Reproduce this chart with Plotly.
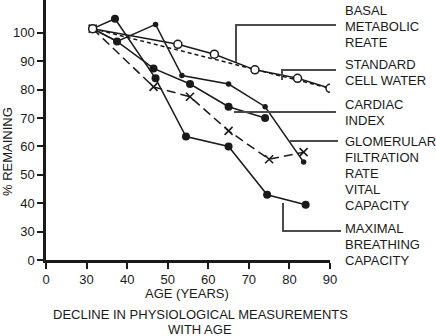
import plotly.graph_objects as go

# Percent of the age-30 value remaining, by age in years
basal_age = [31.5, 52.5, 61.5, 71.5, 82, 90]
basal_pct = [101.5, 96, 92.5, 87, 84, 80.5]

cell_water_age = [31.5, 90]
cell_water_pct = [101.5, 80.5]

cardiac_age = [31.5, 37.5, 46.5, 55.5, 65, 74]
cardiac_pct = [101.5, 97, 87.5, 82, 74, 70]

gfr_age = [31.5, 46.5, 55.5, 65, 75, 83.5]
gfr_pct = [101.5, 81, 77.5, 65.5, 55.5, 58]

vital_age = [31.5, 37.5, 47, 53.5, 65, 74, 83.5]
vital_pct = [101.5, 97, 103, 85, 82, 74, 54.5]

mbc_age = [31.5, 37, 47, 54.5, 65, 74.5, 84]
mbc_pct = [101.5, 105, 84, 63.5, 60, 43, 39.5]

# Broken axes: the first tick stands for zero
x_tickvals = [20, 30, 40, 50, 60, 70, 80, 90]
x_ticktext = ["0", "30", "40", "50", "60", "70", "80", "90"]
y_tickvals = [20, 30, 40, 50, 60, 70, 80, 90, 100]
y_ticktext = ["0", "30", "40", "50", "60", "70", "80", "90", "100"]

label_groups = [
    (["BASAL", "METABOLIC", "REATE"], 11),
    (["STANDARD", "CELL WATER"], 64),
    (["CARDIAC", "INDEX"], 104),
    (["GLOMERULAR", "FILTRATION", "RATE", "VITAL", "CAPACITY"], 141),
    (["MAXIMAL", "BREATHING", "CAPACITY"], 228),
]

W, H = 436, 336
ML, MR, MT, MB = 46, 106, 0, 76
PW, PH = W - ML - MR, H - MT - MB
FONT = "Liberation Sans, Arial, sans-serif"
INK = "#1a1a1a"


def paper(px, py):
    return (px - ML) / PW, (H - MB - py) / PH


fig = go.Figure()

fig.add_trace(go.Scatter(x=cell_water_age, y=cell_water_pct, mode="lines",
                         line=dict(color=INK, width=1.5, dash="4px,3px")))
fig.add_trace(go.Scatter(x=gfr_age, y=gfr_pct, mode="lines+markers",
                         line=dict(color=INK, width=1.5, dash="9px,5px"),
                         marker=dict(symbol="x-thin", size=8,
                                     line=dict(color=INK, width=1.6))))
fig.add_trace(go.Scatter(x=vital_age, y=vital_pct, mode="lines+markers",
                         line=dict(color=INK, width=1.5),
                         marker=dict(size=5.5, color=INK)))
fig.add_trace(go.Scatter(x=cardiac_age, y=cardiac_pct, mode="lines+markers",
                         line=dict(color=INK, width=1.5),
                         marker=dict(size=8, color=INK)))
fig.add_trace(go.Scatter(x=mbc_age, y=mbc_pct, mode="lines+markers",
                         line=dict(color=INK, width=1.5),
                         marker=dict(size=8, color=INK)))
fig.add_trace(go.Scatter(x=basal_age, y=basal_pct, mode="lines+markers",
                         line=dict(color=INK, width=1.5),
                         marker=dict(size=8, color="white",
                                     line=dict(color=INK, width=1.5))))

# Leader lines from the curves to their labels
leaders = [
    [(336, 25), (236, 25), (236, 62)],
    [(336, 70), (282, 70), (282, 80)],
    [(336, 112), (234, 112)],
    [(338, 141), (290, 141)],
    [(341, 231), (283, 231), (283, 203)],
]
for pts in leaders:
    path = ""
    for i, (px, py) in enumerate(pts):
        x, y = paper(px, py)
        path += ("M" if i == 0 else " L") + f"{x:.4f},{y:.4f}"
    fig.add_shape(type="path", path=path, xref="paper", yref="paper",
                  line=dict(color="#4a4a4a", width=2))

annotations = []
for lines, top in label_groups:
    for i, text in enumerate(lines):
        x, y = paper(343, top + 16 * i)
        annotations.append(dict(text=text, x=x, y=y, xref="paper", yref="paper",
                                xanchor="left", yanchor="middle", showarrow=False,
                                font=dict(size=13, color=INK, family=FONT)))

for text, px, py in [("AGE (YEARS)", 187, 293),
                     ("DECLINE IN PHYSIOLOGICAL MEASUREMENTS", 200, 314),
                     ("WITH AGE", 200, 329)]:
    x, y = paper(px, py)
    annotations.append(dict(text=text, x=x, y=y, xref="paper", yref="paper",
                            xanchor="center", yanchor="middle", showarrow=False,
                            borderpad=0,
                            font=dict(size=13, color=INK, family=FONT)))

x, y = paper(8, 152)
annotations.append(dict(text="% REMAINING", x=x, y=y, xref="paper", yref="paper",
                        xanchor="center", yanchor="middle", showarrow=False,
                        textangle=-90, font=dict(size=13, color=INK, family=FONT)))

fig.update_layout(
    width=W, height=H,
    margin=dict(l=ML, r=MR, t=MT, b=MB, pad=0),
    paper_bgcolor="white", plot_bgcolor="white",
    showlegend=False,
    annotations=annotations,
    font=dict(family=FONT, size=13, color=INK),
    xaxis=dict(range=[20, 90], tickvals=x_tickvals, ticktext=x_ticktext,
               showgrid=False, zeroline=False, showline=True, linecolor=INK,
               linewidth=2.5, ticks="outside", ticklen=6, tickwidth=2,
               tickcolor=INK, tickfont=dict(size=13, color=INK, family=FONT)),
    yaxis=dict(range=[20, 111.6], tickvals=y_tickvals, ticktext=y_ticktext,
               showgrid=False, zeroline=False, showline=True, linecolor=INK,
               linewidth=2.5, ticks="outside", ticklen=6, tickwidth=2,
               tickcolor=INK, tickfont=dict(size=13, color=INK, family=FONT)),
)

fig.write_html("out.html")
